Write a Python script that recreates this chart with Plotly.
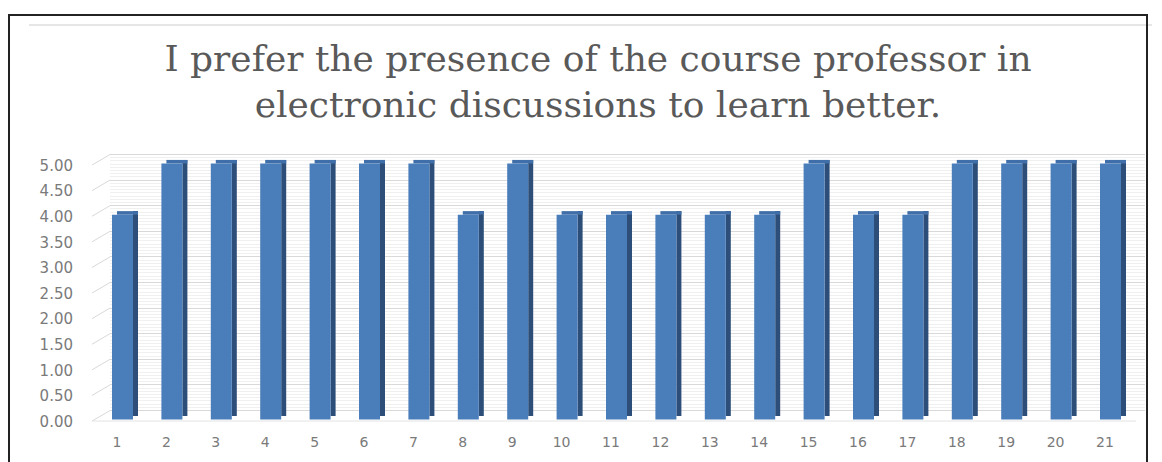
import numpy as np
import plotly.graph_objects as go

categories = list(range(1, 22))
values = [4, 5, 5, 5, 5, 5, 5, 4, 5, 4, 4, 4, 4, 4, 5, 4, 4, 5, 5, 5, 5]
y_ticks = [0, 0.5, 1, 1.5, 2, 2.5, 3, 3.5, 4, 4.5, 5]
y_tick_labels = ["0.00", "0.50", "1.00", "1.50", "2.00", "2.50", "3.00", "3.50", "4.00", "4.50", "5.00"]
title_text = "I prefer the presence of the course professor in<br>electronic discussions to learn better."

W, H = 1162, 462
ML, MR, MT, MB = 110, 17, 150, 37
PW, PH = W - ML - MR, H - MT - MB


def px_x(px):
    return (px - ML) / PW


def px_y(py):
    return (H - MB - py) / PH


pitch = 49.4
ppu = 51.2
x_range = [1 - 7 / pitch, 21 + 40 / pitch]
y_range = [-5.5 / ppu, 5 + 13.5 / ppu]
shift = 9 / ppu

front_off, front_w = -5 / pitch, 21 / pitch
side_off, side_w = 16 / pitch, 5 / pitch
depth = 0.07

fig = go.Figure()
# side face (darker)
fig.add_trace(go.Bar(x=categories, y=values, base=[depth] * len(values),
                     offset=side_off, width=side_w, marker_color="#2d4e78",
                     marker_line_width=0, hoverinfo="skip"))
# top cap
fig.add_trace(go.Bar(x=categories, y=[depth] * len(values), base=values,
                     offset=front_off + side_w, width=front_w, marker_color="#3f6ea8",
                     marker_line_width=0, hoverinfo="skip"))
# front face
fig.add_trace(go.Bar(x=categories, y=values, offset=front_off, width=front_w,
                     marker_color="#4a7ebb", marker_line_width=0))

grid_major = [v + shift for v in y_ticks]
grid_minor = [v + shift for v in np.arange(0, 5.0001, 0.0625)
              if abs(v * 2 - round(v * 2)) > 1e-6]

shapes = []
# left perspective wall lines
for v in y_ticks:
    shapes.append(dict(type="line", xref="paper", yref="y",
                       x0=px_x(92), x1=px_x(110), y0=v - 0.03, y1=v + shift,
                       line=dict(color="#d9d9d9", width=1), layer="below"))
# floor front edge
shapes.append(dict(type="line", xref="paper", yref="y", x0=px_x(92), x1=px_x(1136),
                   y0=-0.03, y1=-0.03, line=dict(color="#e3e3e3", width=1), layer="below"))
# faint top line
shapes.append(dict(type="line", xref="paper", yref="paper", x0=px_x(29), x1=px_x(1152),
                   y0=px_y(25), y1=px_y(25), line=dict(color="#e6e6e6", width=2)))
# outer frame
shapes.append(dict(type="rect", xref="paper", yref="paper", x0=px_x(9), x1=px_x(1147),
                   y0=px_y(480), y1=px_y(15), line=dict(color="#222222", width=2)))

fig.update_layout(
    width=W, height=H,
    margin=dict(l=ML, r=MR, t=MT, b=MB),
    paper_bgcolor="white", plot_bgcolor="white",
    showlegend=False, barmode="overlay",
    title=dict(text=title_text, x=598 / W, xanchor="center", xref="container",
               y=1 - 70.5 / H, yanchor="middle", yref="container",
               font=dict(family="DejaVu Serif", size=36, color="#595959")),
    xaxis=dict(range=x_range, tickvals=categories, ticktext=[str(c) for c in categories],
               showgrid=False, zeroline=False, showline=False, automargin=False,
               ticks="outside", ticklen=4, tickcolor="rgba(0,0,0,0)",
               tickfont=dict(family="DejaVu Sans", size=14, color="#7a7a7a")),
    yaxis=dict(range=y_range, tickvals=grid_major, ticktext=y_tick_labels,
               ticklabelshift=11, ticklabelstandoff=36, ticks="", automargin=False,
               showgrid=True, gridcolor="#d9d9d9", gridwidth=1, zeroline=False, showline=False,
               tickfont=dict(family="DejaVu Sans", size=15, color="#7a7a7a"),
               minor=dict(tickvals=grid_minor, showgrid=True, gridcolor="#f0f0f0", gridwidth=1)),
    shapes=shapes,
)

fig.write_html("out.html", config={"displayModeBar": False},
               post_script="document.body.style.margin='0';document.body.style.overflow='hidden';")
